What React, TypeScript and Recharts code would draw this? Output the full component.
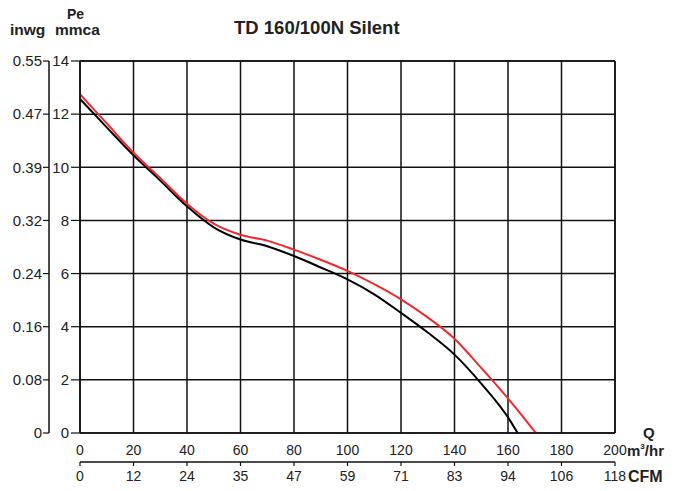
import { LineChart, Line, XAxis, YAxis, CartesianGrid, ReferenceLine } from 'recharts';

const qTicks = [0, 20, 40, 60, 80, 100, 120, 140, 160, 180, 200];
const cfmLabels = ['0', '12', '24', '35', '47', '59', '71', '83', '94', '106', '118'];
const peTicks = [0, 2, 4, 6, 8, 10, 12, 14];
const inwgLabels = ['0', '0.08', '0.16', '0.24', '0.32', '0.39', '0.47', '0.55'];

const qBlack = [0, 10, 20, 30, 40, 50, 60, 70, 80, 90, 100, 110, 120, 130, 140, 150, 160, 163.6];
const peBlack = [12.57, 11.5, 10.45, 9.5, 8.53, 7.74, 7.28, 7.03, 6.66, 6.23, 5.78, 5.22, 4.52, 3.78, 2.95, 1.86, 0.59, 0];
const qRed = [0, 10, 20, 30, 40, 50, 60, 70, 80, 90, 100, 110, 120, 130, 140, 150, 160, 170.4];
const peRed = [12.75, 11.65, 10.55, 9.6, 8.63, 7.88, 7.46, 7.24, 6.9, 6.52, 6.1, 5.6, 5.03, 4.35, 3.55, 2.45, 1.3, 0];

const blackData = qBlack.map((q, i) => ({ q, pe: peBlack[i] }));
const redData = qRed.map((q, i) => ({ q, pe: peRed[i] }));

const FONT = '"Liberation Sans", Arial, sans-serif';
const tickStyle = { fontSize: 14, fill: '#222', fontFamily: FONT };
const leftTickStyle = { fontSize: 15, fill: '#222', fontFamily: FONT };
const lineStyle = { stroke: '#111', strokeWidth: 1.5 };

// axis ids: "a*" sits against the plot, "b*" is the outer one
const X_Q = 'xa';
const X_CFM = 'xb';
const Y_MM = 'ya';
const Y_IN = 'yb';

const label = (text: React.ReactNode, left: number, top: number, size = 14) => (
  <div
    style={{
      position: 'absolute',
      left,
      top,
      fontFamily: FONT,
      fontWeight: 'bold',
      fontSize: size,
      color: '#222',
      lineHeight: 1,
      whiteSpace: 'nowrap'
    }}
  >
    {text}
  </div>
);

export default function App() {
  return (
    <div style={{ position: 'absolute', left: 0, top: 0, width: 677, height: 491, background: '#fff' }}>
      <LineChart width={677} height={491} margin={{ top: 61, right: 62, bottom: 0, left: 0 }}>
        <CartesianGrid xAxisId={X_Q} yAxisId={Y_MM} stroke="#111" strokeWidth={1.5} />
        <XAxis
          xAxisId={X_Q}
          dataKey="q"
          type="number"
          domain={[0, 200]}
          ticks={qTicks}
          height={29}
          tickLine={false}
          tickSize={2}
          tickMargin={10}
          axisLine={lineStyle}
          tick={tickStyle}
          interval={0}
        />
        <XAxis
          xAxisId={X_CFM}
          dataKey="q"
          type="number"
          domain={[0, 200]}
          ticks={qTicks}
          tickFormatter={(v: number) => cfmLabels[qTicks.indexOf(v)]}
          height={29}
          tickSize={4}
          tickMargin={5}
          axisLine={lineStyle}
          tickLine={{ stroke: '#111', strokeWidth: 1.2 }}
          tick={tickStyle}
          interval={0}
        />
        <YAxis
          yAxisId={Y_MM}
          type="number"
          domain={[0, 14]}
          ticks={peTicks}
          width={31}
          tickSize={9}
          tickMargin={2}
          axisLine={lineStyle}
          tickLine={{ stroke: '#111', strokeWidth: 1.2 }}
          tick={leftTickStyle}
          interval={0}
        />
        <YAxis
          yAxisId={Y_IN}
          type="number"
          domain={[0, 14]}
          ticks={peTicks}
          tickFormatter={(v: number) => inwgLabels[peTicks.indexOf(v)]}
          width={49}
          tickSize={6}
          tickMargin={1}
          axisLine={lineStyle}
          tickLine={{ stroke: '#111', strokeWidth: 1.2 }}
          tick={leftTickStyle}
          interval={0}
        />
        <ReferenceLine xAxisId={X_Q} yAxisId={Y_MM} y={14} stroke="#111" strokeWidth={1.5} />
        <ReferenceLine xAxisId={X_Q} yAxisId={Y_MM} x={200} stroke="#111" strokeWidth={1.5} />
        <Line
          xAxisId={X_Q}
          yAxisId={Y_MM}
          data={blackData}
          dataKey="pe"
          type="monotone"
          stroke="#000"
          strokeWidth={2}
          dot={false}
          isAnimationActive={false}
        />
        <Line
          xAxisId={X_Q}
          yAxisId={Y_MM}
          data={redData}
          dataKey="pe"
          type="monotone"
          stroke="#ee2a2e"
          strokeWidth={2}
          dot={false}
          isAnimationActive={false}
        />
        {/* invisible series so the secondary axes get ticks */}
        <Line
          xAxisId={X_CFM}
          yAxisId={Y_IN}
          data={redData}
          dataKey="pe"
          stroke="none"
          strokeWidth={0}
          dot={false}
          activeDot={false}
          isAnimationActive={false}
        />
      </LineChart>
      {label('TD 160/100N Silent', 234, 19, 18.5)}
      {label('Pe', 67, 7, 14)}
      {label('mmca', 55, 22, 15.5)}
      {label('inwg', 10, 22, 15.5)}
      {label('Q', 643, 425, 15)}
      {label(
        <span>
          m<sup style={{ fontSize: 8, verticalAlign: 'top' }}>3</sup>/hr
        </span>,
        627,
        443,
        15
      )}
      {label('CFM', 628, 469, 16)}
    </div>
  );
}
